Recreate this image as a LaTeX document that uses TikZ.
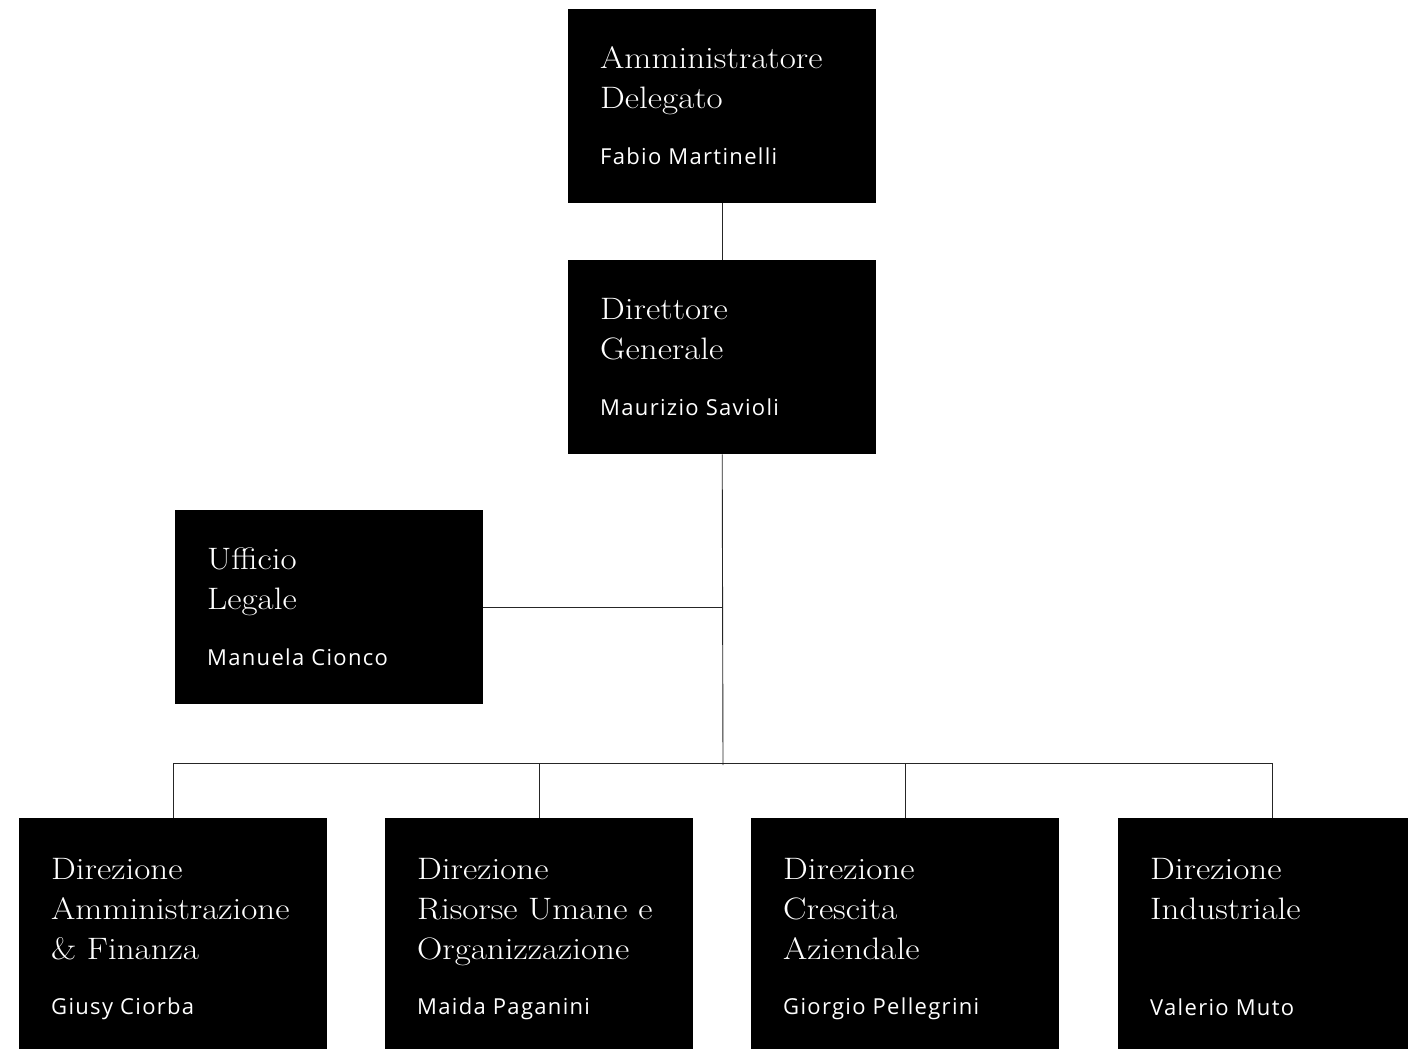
\documentclass[tikz,border=0pt]{standalone}
\usepackage{fontspec}
\newfontfamily\namefont{Open Sans}[LetterSpace=6]
\newfontfamily\titlefont{lmroman17-regular.otf}[FakeStretch=1.13]
\begin{document}
\begin{tikzpicture}[x=1pt,y=-1pt,
  box/.style={fill=black, draw=none, inner sep=0pt, minimum width=308pt, minimum height=194pt, anchor=north west},
  lowbox/.style={box, minimum height=231pt},
  ttl/.style={anchor=base west, inner sep=0pt, text=white, font=\titlefont\fontsize{31}{40}\selectfont},
  nm/.style={anchor=base west, inner sep=0pt, text=white, font=\namefont\fontsize{22}{26}\selectfont},
  link/.style={draw=black!85, line width=0.9pt}]
\useasboundingbox (0,0) rectangle (1408,1049);

% top boxes
\node[box] (ad) at (568,9) {};
\node[ttl] (ad1) at (600,68) {Amministratore};
\node[ttl] (ad2) at (600,108) {Delegato};
\node[nm] (adn) at (600,164) {Fabio Martinelli};

\node[box] (dg) at (568,260) {};
\node[ttl] (dg1) at (600,319) {Direttore};
\node[ttl] (dg2) at (600,359) {Generale};
\node[nm] (dgn) at (600,415) {Maurizio Savioli};

\node[box] (ul) at (175,510) {};
\node[ttl] (ul1) at (207,569) {Ufficio};
\node[ttl] (ul2) at (207,609) {Legale};
\node[nm] (uln) at (207,665) {Manuela Cionco};

% bottom boxes
\node[lowbox] (b1) at (19,818) {};
\node[ttl] (b1a) at (51,879) {Direzione};
\node[ttl] (b1b) at (51,919) {Amministrazione};
\node[ttl] (b1c) at (51,959) {\& Finanza};
\node[nm] (b1n) at (51,1014) {Giusy Ciorba};

\node[lowbox] (b2) at (385,818) {};
\node[ttl] (b2a) at (417,879) {Direzione};
\node[ttl] (b2b) at (417,919) {Risorse Umane e};
\node[ttl] (b2c) at (417,959) {Organizzazione};
\node[nm] (b2n) at (417,1014) {Maida Paganini};

\node[lowbox] (b3) at (751,818) {};
\node[ttl] (b3a) at (783,879) {Direzione};
\node[ttl] (b3b) at (783,919) {Crescita};
\node[ttl] (b3c) at (783,959) {Aziendale};
\node[nm] (b3n) at (783,1014) {Giorgio Pellegrini};

\node[lowbox, minimum width=290pt] (b4) at (1118,818) {};
\node[ttl] (b4a) at (1150,879) {Direzione};
\node[ttl] (b4b) at (1150,919) {Industriale};
\node[nm] (b4n) at (1150,1015) {Valerio Muto};
\coordinate (b4top) at (1272,818);

% connectors
\coordinate (bus) at (723,763);
\coordinate (busend) at (723,765);
\draw[link] (ad.south) -- (dg.north);
\draw[link] (dg.south) -- (busend);
\draw[link] (ul.east) -- (ul.east -| dg.south);
\draw[link] (b1.north) -- (b1.north |- bus) -- (b4top |- bus) -- (b4top);
\draw[link] (b2.north) -- (b2.north |- bus);
\draw[link] (b3.north) -- (b3.north |- bus);
\end{tikzpicture}
\end{document}
